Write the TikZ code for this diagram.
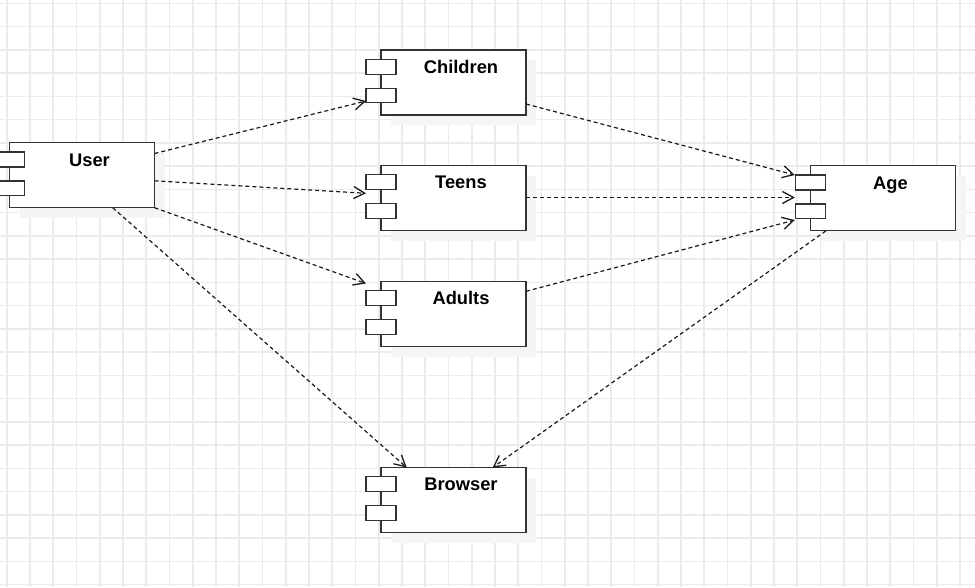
\documentclass[tikz,border=0pt]{standalone}
\usepackage{fontspec}
\setmainfont{Liberation Sans}
\usetikzlibrary{arrows.meta,calc}
\tikzset{
  gridline/.style={draw=black!8, line width=1.6pt},
  compbox/.style={draw=black!80, line width=1.3pt, fill=white, minimum width=145pt, minimum height=65pt, inner sep=0pt, outer sep=0pt},
  smallbox/.style={draw=black!80, line width=1.3pt, fill=white},
  shadowc/.style={fill=black!4},
  lbl/.style={font=\bfseries\fontsize{18.3}{20}\selectfont, inner sep=0pt, anchor=base},
  dep/.style={draw=black!90, line width=1.2pt, dash pattern=on 4pt off 3pt, -{Straight Barb[length=11pt,width=12pt,line width=1.3pt]}}
}
\newcommand{\umlcomp}[3]{%
  \fill[shadowc] ($(#2)+(-62.5,-22.5)$) rectangle ++(145,65);
  \node[compbox] (#1) at (#2) {};
  \draw[smallbox] ($(#1.north west)+(-15,9.3)$) rectangle ++(30,15);
  \draw[smallbox] ($(#1.north west)+(-15,38.3)$) rectangle ++(30,14.5);
  \node[lbl] (#1L) at ($(#1.north)+(7.5,23.3)$) {#3};
}
\begin{document}
\begin{tikzpicture}[x=1pt,y=-1pt]
\useasboundingbox (0,0) rectangle (975,587);
\fill[white] (0,0) rectangle (975,587);
\foreach \i in {0,...,41} \draw[gridline] ({6.7+23.25*\i},0) -- ++(0,587);
\foreach \i in {0,...,25} \draw[gridline] (0,{3.3+23.25*\i}) -- ++(975,0);

\umlcomp{user}{82,175.2}{User}
\umlcomp{children}{453.5,82.5}{Children}
\umlcomp{teens}{453.5,198}{Teens}
\umlcomp{adults}{453.5,314}{Adults}
\umlcomp{browser}{453.5,500}{Browser}
\umlcomp{age}{883,198.3}{Age}

\draw[dep] ($(user.east)+(0,-21.7)$) -- ($(children.west)+(-15,18.5)$);
\draw[dep] ($(user.east)+(0,5.6)$) -- ($(teens.west)+(-15,-4.7)$);
\draw[dep] (user.south east) -- ($(adults.north west)+(-15,2)$);
\draw[dep] ($(user.south)+(30.7,0)$) -- ($(browser.north)+(-46.8,0)$);
\draw[dep] ($(children.east)+(0,21.5)$) -- ($(age.west)+(-15.7,-23.3)$);
\draw[dep] ($(teens.east)+(0,-0.5)$) -- ($(age.west)+(-15.7,-0.8)$);
\draw[dep] ($(adults.east)+(0,-22.7)$) -- ($(age.west)+(-15.7,21.7)$);
\draw[dep] ($(age.south)+(-57,0)$) -- ($(browser.north)+(39.2,0)$);
\end{tikzpicture}
\end{document}
